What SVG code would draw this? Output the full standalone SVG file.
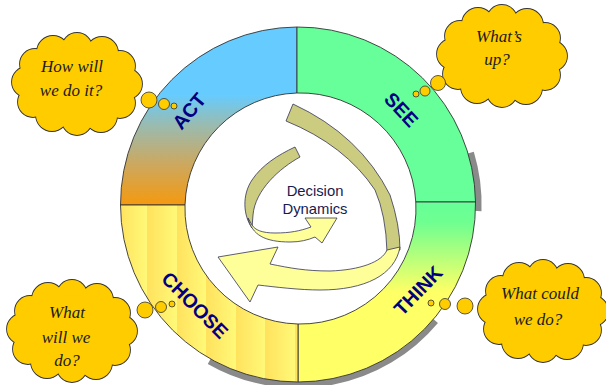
<svg xmlns="http://www.w3.org/2000/svg" width="606" height="385" viewBox="0 0 606 385">
<defs>
<style>
.seg{stroke:#333;stroke-width:0.9}
.lbl{font-family:"Liberation Sans",Arial,sans-serif;font-weight:bold;font-size:19.5px;fill:#000080;text-anchor:middle}
.thk{font-family:"Liberation Serif","Times New Roman",serif;font-style:italic;font-size:17px;fill:#1a1a1a;text-anchor:middle}
.cl-out{fill:#FFCC00;stroke:#333;stroke-width:1.8}
.cl-in{fill:#FFCC00;stroke:none}
.bub{fill:#FFCC00;stroke:#333;stroke-width:0.8}
.olive{fill:#CCCC80;stroke:#333355;stroke-width:0.8}
.yel{fill:#FFFF99;stroke:#333355;stroke-width:0.8}
.shadow{fill:none;stroke:#8a8a8a}
.ctr{font-family:"Liberation Sans",Arial,sans-serif;font-size:14.8px;fill:#1A1A4D;text-anchor:middle}
</style>
<linearGradient id="gAct" gradientUnits="userSpaceOnUse" x1="0" y1="27" x2="0" y2="205">
<stop offset="0" stop-color="#66CCFF"/>
<stop offset="0.38" stop-color="#66CCFF"/>
<stop offset="0.55" stop-color="#99BBB0"/>
<stop offset="0.75" stop-color="#C8AA66"/>
<stop offset="1" stop-color="#F5990F"/>
</linearGradient>
<linearGradient id="gThink" gradientUnits="userSpaceOnUse" x1="0" y1="202" x2="0" y2="382">
<stop offset="0" stop-color="#66FF99"/>
<stop offset="0.12" stop-color="#70FF90"/>
<stop offset="0.5" stop-color="#FFFF66"/>
<stop offset="1" stop-color="#FFFF66"/>
</linearGradient>
<linearGradient id="gChoose" gradientUnits="userSpaceOnUse" x1="118" y1="0" x2="147.5" y2="0" spreadMethod="repeat">
<stop offset="0" stop-color="#FFE25E"/>
<stop offset="1" stop-color="#FFF978"/>
</linearGradient>
<g id="cloudShape">
<circle cx="50" cy="0" r="15"/>
<circle cx="43" cy="19" r="15"/>
<circle cx="24" cy="32" r="16"/>
<circle cx="0" cy="36" r="15"/>
<circle cx="-25" cy="31" r="16"/>
<circle cx="-44" cy="18" r="15"/>
<circle cx="-50" cy="-2" r="15"/>
<circle cx="-42" cy="-20" r="15"/>
<circle cx="-24" cy="-32" r="16"/>
<circle cx="0" cy="-36" r="15"/>
<circle cx="25" cy="-31" r="16"/>
<circle cx="43" cy="-18" r="15"/>
<ellipse rx="50" ry="36"/>
</g>
</defs>

<g id="shadows">
<path class="shadow" stroke-width="9" d="M 469.5,153 A 177.5 177.5 0 0 1 477,211"/>
<path class="shadow" stroke-width="9" d="M 434.5,320 A 177.5 177.5 0 0 1 210,360"/>
</g>

<g id="ring">
<g id="seg-act"><path class="seg" fill="url(#gAct)" d="M 120.5,205 A 177.5 177.5 0 0 1 297,27 L 297,93 A 115.5 115.5 0 0 0 185,205 Z"/>
<text class="lbl" transform="translate(189,111) rotate(-50)" y="7">ACT</text></g>
<g id="seg-see"><path class="seg" fill="#66FF99" d="M 297,27 A 177.5 177.5 0 0 1 475.5,202 L 415.8,202 A 115.5 115.5 0 0 0 297,93 Z"/>
<text class="lbl" transform="translate(401.5,109.5) rotate(47)" y="7">SEE</text></g>
<g id="seg-think"><path class="seg" fill="url(#gThink)" d="M 475.5,202 A 177.5 177.5 0 0 1 298,382 L 298,324 A 115.5 115.5 0 0 0 415.8,202 Z"/>
<text class="lbl" transform="translate(418,290.5) rotate(-46)" y="7">THINK</text></g>
<g id="seg-choose"><path class="seg" fill="url(#gChoose)" d="M 298,382 A 177.5 177.5 0 0 1 120.5,205 L 185,205 A 115.5 115.5 0 0 0 298,324 Z"/>
<text class="lbl" transform="translate(195,305) rotate(45)" y="7">CHOOSE</text></g>
</g>

<g id="center">
<path class="olive" d="M 293,104 Q 360,135 390,195 Q 400,225 400,250 L 387,252 Q 386,215 375,190 Q 345,145 286,121 Z"/>
<path class="yel" d="M 400,247 C 395,275 365,290 320,290 C 300,290 275,287 258,285 L 250,302 L 218,257 L 278,247 L 270,264 C 290,268 305,271 330,271 C 360,270 382,262 387,250 Z"/>
<path class="olive" d="M 295,147 L 300,157 C 280,168 255,190 253,215 L 252,228 C 243,215 242,195 252,180 C 262,165 278,155 295,147 Z"/>
<path class="yel" d="M 248,218 C 252,235 265,242 290,242 C 300,242 308,240 315,237 L 322,243 L 337,218 L 305,218 L 311,227 C 300,231 290,233 275,233 C 262,233 255,230 252,225 Z"/>
<text class="ctr" x="315" y="196">Decision</text>
<text class="ctr" x="315" y="214">Dynamics</text>
</g>

<g id="cloud-act">
<use href="#cloudShape" class="cl-out" transform="translate(77,84)"/>
<use href="#cloudShape" class="cl-in" transform="translate(77,84)"/>
<text class="thk" x="72" y="72">How will</text>
<text class="thk" x="71" y="96">we do it?</text>
</g>
<g id="cloud-see">
<use href="#cloudShape" class="cl-out" transform="translate(502,56)"/>
<use href="#cloudShape" class="cl-in" transform="translate(502,56)"/>
<text class="thk" x="499" y="42">What’s</text>
<text class="thk" x="497" y="65">up?</text>
</g>
<g id="cloud-choose">
<use href="#cloudShape" class="cl-out" transform="translate(72,331)"/>
<use href="#cloudShape" class="cl-in" transform="translate(72,331)"/>
<text class="thk" x="67" y="318">What</text>
<text class="thk" x="66" y="343">will we</text>
<text class="thk" x="67" y="366">do?</text>
</g>
<g id="cloud-think">
<use href="#cloudShape" class="cl-out" transform="translate(543,311)"/>
<use href="#cloudShape" class="cl-in" transform="translate(543,311)"/>
<text class="thk" x="540" y="299">What could</text>
<text class="thk" x="538" y="325">we do?</text>
</g>

<g id="connectors">
<circle class="bub" cx="149" cy="100" r="8"/>
<circle class="bub" cx="164" cy="104" r="5.5"/>
<circle class="bub" cx="174" cy="106" r="3"/>
<circle class="bub" cx="438" cy="83" r="7.5"/>
<circle class="bub" cx="425" cy="91" r="5"/>
<circle class="bub" cx="416" cy="94" r="3"/>
<circle class="bub" cx="145" cy="310" r="8"/>
<circle class="bub" cx="161" cy="307" r="5.5"/>
<circle class="bub" cx="172" cy="304" r="3"/>
<circle class="bub" cx="465" cy="306" r="8"/>
<circle class="bub" cx="445" cy="304" r="5.5"/>
<circle class="bub" cx="431" cy="303" r="3"/>
</g>
</svg>
